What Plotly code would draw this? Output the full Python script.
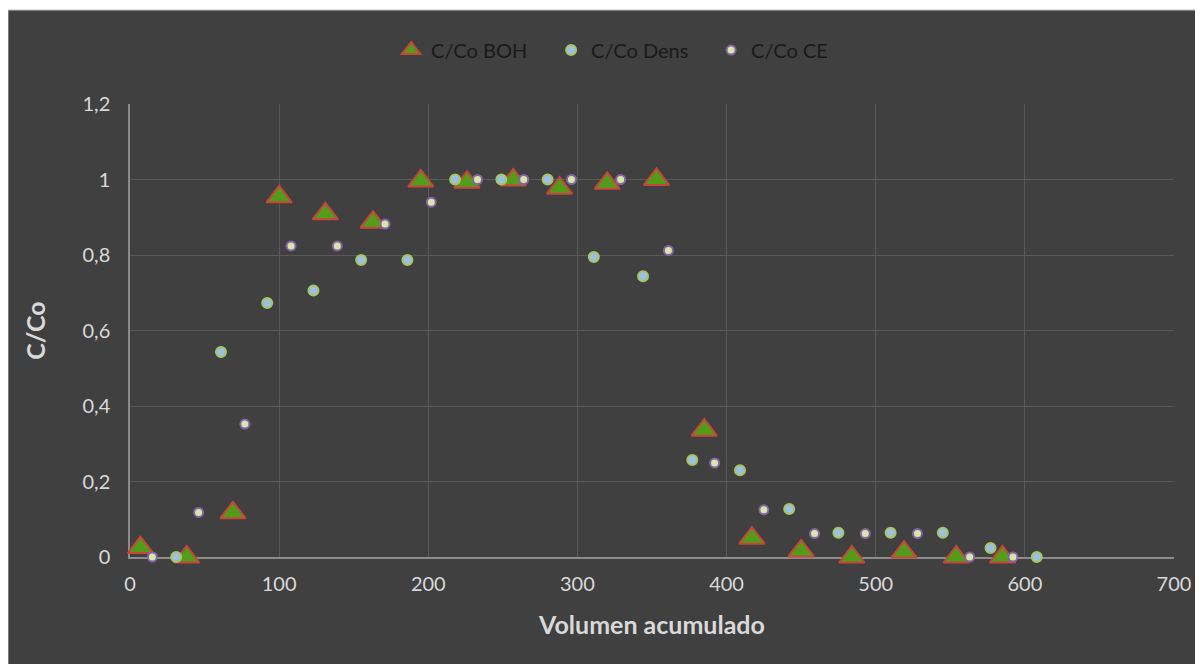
import plotly.graph_objects as go

# C/Co BOH
boh_x = [7, 38, 69, 100, 131, 163, 195, 226, 257, 288, 320, 353, 385, 417, 450, 484, 519, 554, 585]
boh_y = [0.025, 0, 0.117, 0.954, 0.909, 0.887, 0.996, 0.993, 0.999, 0.977, 0.99, 1.0, 0.336, 0.05, 0.016, 0, 0.013, 0, 0]

# C/Co Dens
dens_x = [31, 61, 92, 123, 155, 186, 218, 249, 280, 311, 344, 377, 409, 442, 475, 510, 545, 577, 608]
dens_y = [0, 0.543, 0.673, 0.706, 0.787, 0.787, 1, 1, 1, 0.795, 0.744, 0.257, 0.23, 0.127, 0.064, 0.064, 0.064, 0.024, 0]

# C/Co CE
ce_x = [15, 46, 77, 108, 139, 171, 202, 233, 264, 296, 329, 361, 392, 425, 459, 493, 528, 563, 592]
ce_y = [0, 0.118, 0.352, 0.824, 0.824, 0.882, 0.94, 1, 1, 1, 1, 0.812, 0.249, 0.125, 0.062, 0.062, 0.062, 0, 0]

font = "Lato"
bg = "#404040"
txt = "#d9d9d9"

fig = go.Figure()
fig.add_trace(go.Scatter(x=boh_x, y=boh_y, mode='markers', name='C/Co BOH', cliponaxis=False,
                         marker=dict(symbol='triangle-up', size=22, color='#529c1a',
                                     line=dict(color='#c8453c', width=2))))
fig.add_trace(go.Scatter(x=dens_x, y=dens_y, mode='markers', name='C/Co Dens', cliponaxis=False,
                         marker=dict(symbol='circle', size=10, color='#9dbfe0',
                                     line=dict(color='#a4c65c', width=2))))
fig.add_trace(go.Scatter(x=ce_x, y=ce_y, mode='markers', name='C/Co CE', cliponaxis=False,
                         marker=dict(symbol='circle', size=9, color='#d8e6aa',
                                     line=dict(color='#8466a6', width=2))))

# dark chart area (page body adds an 8px offset, so the figure is a bit smaller)
fig.add_shape(type='rect', xref='paper', yref='paper', x0=-0.1169, x1=1.06, y0=-0.3, y1=1.2075,
              fillcolor=bg, line=dict(color='#bfbfbf', width=1), layer='below')

fig.update_layout(
    width=1195, height=656,
    margin=dict(l=122, r=29, t=96, b=107),
    paper_bgcolor='white', plot_bgcolor='rgba(0,0,0,0)',
    separators=',.',
    font=dict(family=font, size=20, color=txt),
    showlegend=True,
    legend=dict(orientation='h', x=0.48, xanchor='center', y=1.119, yanchor='middle',
                entrywidth=115, entrywidthmode='pixels',
                font=dict(family=font, size=20, color='#1a1a1a'), bgcolor='rgba(0,0,0,0)'),
    xaxis=dict(range=[0, 700], dtick=100, tick0=0, showgrid=True, gridcolor='#595959', gridwidth=1,
               showline=True, linecolor='#8c8c8c', linewidth=1.5, zeroline=False, layer='below traces',
               ticks='', ticklabelstandoff=8, tickfont=dict(size=20, color=txt),
               title=dict(text='<b>Volumen acumulado</b>', font=dict(size=25, color=txt), standoff=23)),
    yaxis=dict(range=[0, 1.2], dtick=0.2, tick0=0, showgrid=True, gridcolor='#595959', gridwidth=1,
               showline=True, linecolor='#8c8c8c', linewidth=1.5, zeroline=False, layer='below traces',
               ticks='', ticklabelstandoff=14, tickfont=dict(size=20, color=txt),
               title=dict(text='<b>C/Co</b>', font=dict(size=25, color=txt), standoff=30)),
)

fig.write_html("out.html")
